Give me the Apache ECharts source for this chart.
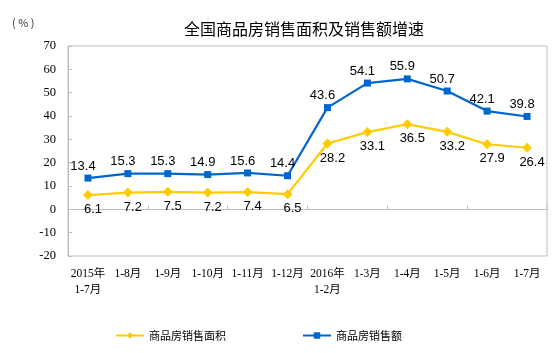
<!DOCTYPE html>
<html>
<head>
<meta charset="utf-8">
<script src="https://cdn.jsdelivr.net/npm/echarts@6/dist/echarts.min.js"></script>
<style>
  html, body { margin: 0; padding: 0; background: #fff; }
  #main { width: 554px; height: 353px; }
</style>
</head>
<body>
<div id="main"></div>
<script>
// periods (cumulative months)
var categories = [
  "2015年\n1-7月", "1-8月", "1-9月", "1-10月", "1-11月", "1-12月",
  "2016年\n1-2月", "1-3月", "1-4月", "1-5月", "1-6月", "1-7月"
];
// 商品房销售面积 growth (%)
var areaGrowth = [6.1, 7.2, 7.5, 7.2, 7.4, 6.5, 28.2, 33.1, 36.5, 33.2, 27.9, 26.4];
// 商品房销售额 growth (%)
var salesGrowth = [13.4, 15.3, 15.3, 14.9, 15.6, 14.4, 43.6, 54.1, 55.9, 50.7, 42.1, 39.8];

var cjk = "'Noto Sans CJK SC', sans-serif";
var serif = "'Liberation Serif', 'Noto Sans CJK SC', serif";

var chartDom = document.getElementById("main");
var myChart = echarts.init(chartDom, null, { renderer: "canvas" });

var option = {
  animation: false,
  backgroundColor: "#fff",
  title: {
    text: "全国商品房销售面积及销售额增速",
    left: 179,
    top: 16,
    textStyle: { fontFamily: cjk, fontSize: 16, fontWeight: "normal", color: "#000" }
  },
  graphic: [
    {
      type: "text",
      left: 12,
      top: 17,
      style: { text: "( % )", font: "11px " + cjk, fill: "#333" }
    }
  ],
  legend: {
    left: 110,
    top: 325,
    itemWidth: 28,
    itemHeight: 8,
    itemGap: 76,
    textStyle: { fontFamily: cjk, fontSize: 11, color: "#000" },
    data: ["商品房销售面积", "商品房销售额"]
  },
  grid: {
    left: 68,
    right: 7,
    top: 46,
    bottom: 97,
    show: true,
    borderColor: "#bfbfbf",
    borderWidth: 1,
    backgroundColor: "transparent"
  },
  xAxis: [
    {
      type: "category",
      data: categories,
      position: "bottom",
      axisLine: { show: false, onZero: false },
      axisTick: { show: false },
      axisLabel: {
        interval: 0,
        margin: 10,
        fontFamily: serif,
        fontSize: 11.5,
        color: "#000",
        lineHeight: 16
      }
    },
    {
      type: "category",
      data: categories,
      position: "bottom",
      axisLine: { show: true, onZero: true, lineStyle: { color: "#bfbfbf", width: 1 } },
      axisTick: { show: true, inside: true, length: 4, lineStyle: { color: "#bfbfbf" } },
      axisLabel: { show: false }
    }
  ],
  yAxis: {
    type: "value",
    min: -20,
    max: 70,
    interval: 10,
    axisLine: { show: true, lineStyle: { color: "#bfbfbf" } },
    axisTick: { show: true, inside: true, length: 4, lineStyle: { color: "#bfbfbf" } },
    splitLine: { show: false },
    axisLabel: { margin: 12, fontFamily: serif, fontSize: 12.5, color: "#000" }
  },
  series: [
    {
      name: "商品房销售面积",
      type: "line",
      data: areaGrowth,
      color: "#ffcc00",
      symbol: "diamond",
      symbolSize: 10,
      lineStyle: { width: 2.2, color: "#ffcc00" },
      itemStyle: { color: "#ffcc00" },
      label: {
        show: true,
        position: "bottom",
        distance: 3,
        offset: [5, 0],
        fontFamily: "'Liberation Sans', Arial, sans-serif",
        fontSize: 13,
        color: "#000"
      },
      z: 2
    },
    {
      name: "商品房销售额",
      type: "line",
      data: salesGrowth,
      color: "#0066cc",
      symbol: "rect",
      symbolSize: 7,
      lineStyle: { width: 2.2, color: "#0066cc" },
      itemStyle: { color: "#0066cc" },
      label: {
        show: true,
        position: "top",
        distance: 2,
        offset: [-5, 0],
        fontFamily: "'Liberation Sans', Arial, sans-serif",
        fontSize: 13,
        color: "#000"
      },
      z: 3
    }
  ]
};

option && myChart.setOption(option);
</script>
</body>
</html>
